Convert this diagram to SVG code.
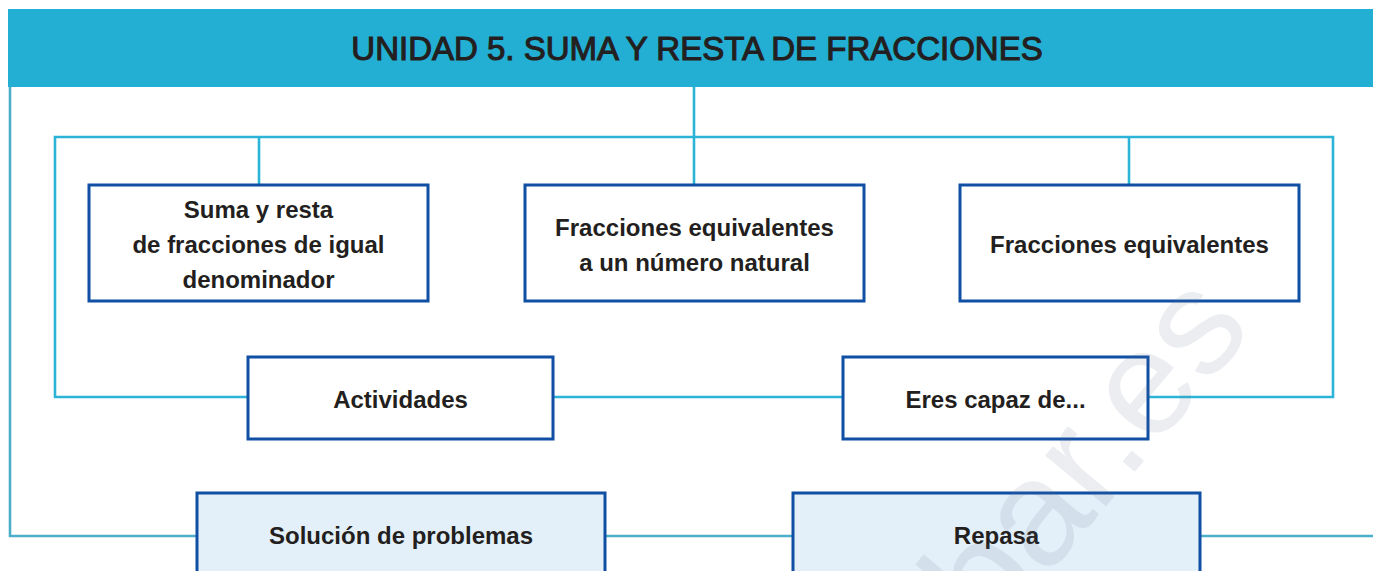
<svg xmlns="http://www.w3.org/2000/svg" width="1373" height="571" viewBox="0 0 1373 571">
<style>
.bg{fill:#ffffff}
.hdr{fill:#23AED3}
.title{font-family:"Liberation Sans",Arial,sans-serif;font-size:33px;fill:#231F20;stroke:#231F20;stroke-width:1.1;text-anchor:middle}
.ln{fill:none;stroke:#2BB4D7;stroke-width:2.6}
.ln2{fill:none;stroke:#4CAFCA;stroke-width:2.6}
.box{fill:#ffffff;stroke:#0F4FA4;stroke-width:3}
.boxl{fill:#E4F0F9;stroke:#0F4FA4;stroke-width:3}
.t{font-family:"Liberation Sans",Arial,sans-serif;font-weight:bold;font-size:24px;fill:#231F20;text-anchor:middle}
.wm{font-family:"Liberation Sans",Arial,sans-serif;font-size:150px;fill:#5A6E80;fill-opacity:0.12}
</style>
<rect class="bg" x="0" y="0" width="1373" height="571"/>
<g id="header">
<rect class="hdr" x="8" y="9" width="1365" height="78"/>
<text class="title" x="697" y="60">UNIDAD 5. SUMA Y RESTA DE FRACCIONES</text>
</g>
<g id="connectors">
<polyline class="ln2" points="10,87 10,536 197,536"/>
<line class="ln2" x1="605" y1="536" x2="793" y2="536"/>
<line class="ln2" x1="1200" y1="536" x2="1373" y2="536"/>
<line class="ln" x1="694" y1="87" x2="694" y2="185"/>
<polyline class="ln" points="248,397 55,397 55,137 1333,137 1333,397 1148,397"/>
<line class="ln" x1="553" y1="397" x2="843" y2="397"/>
<line class="ln" x1="259" y1="137" x2="259" y2="185"/>
<line class="ln" x1="1129" y1="137" x2="1129" y2="185"/>
</g>
<g id="n-suma">
<rect class="box" x="89" y="185" width="339" height="116"/>
<text class="t" x="258.5" y="218">Suma y resta</text>
<text class="t" x="258.5" y="253">de fracciones de igual</text>
<text class="t" x="258.5" y="288">denominador</text>
</g>
<g id="n-natural">
<rect class="box" x="525" y="185" width="339" height="116"/>
<text class="t" x="694.5" y="236">Fracciones equivalentes</text>
<text class="t" x="694.5" y="271">a un número natural</text>
</g>
<g id="n-equiv">
<rect class="box" x="960" y="185" width="339" height="116"/>
<text class="t" x="1129.5" y="253">Fracciones equivalentes</text>
</g>
<g id="n-actividades">
<rect class="box" x="248" y="357" width="305" height="82"/>
<text class="t" x="400.5" y="408">Actividades</text>
</g>
<g id="n-eres">
<rect class="box" x="843" y="357" width="305" height="82"/>
<text class="t" x="995.5" y="408">Eres capaz de...</text>
</g>
<g id="n-solucion">
<rect class="boxl" x="197" y="493" width="408" height="90"/>
<text class="t" x="401" y="544">Solución de problemas</text>
</g>
<g id="n-repasa">
<rect class="boxl" x="793" y="493" width="407" height="90"/>
<text class="t" x="996.5" y="544">Repasa</text>
</g>
<text class="wm" transform="translate(992,642) rotate(-50)">bar.es</text>
</svg>
